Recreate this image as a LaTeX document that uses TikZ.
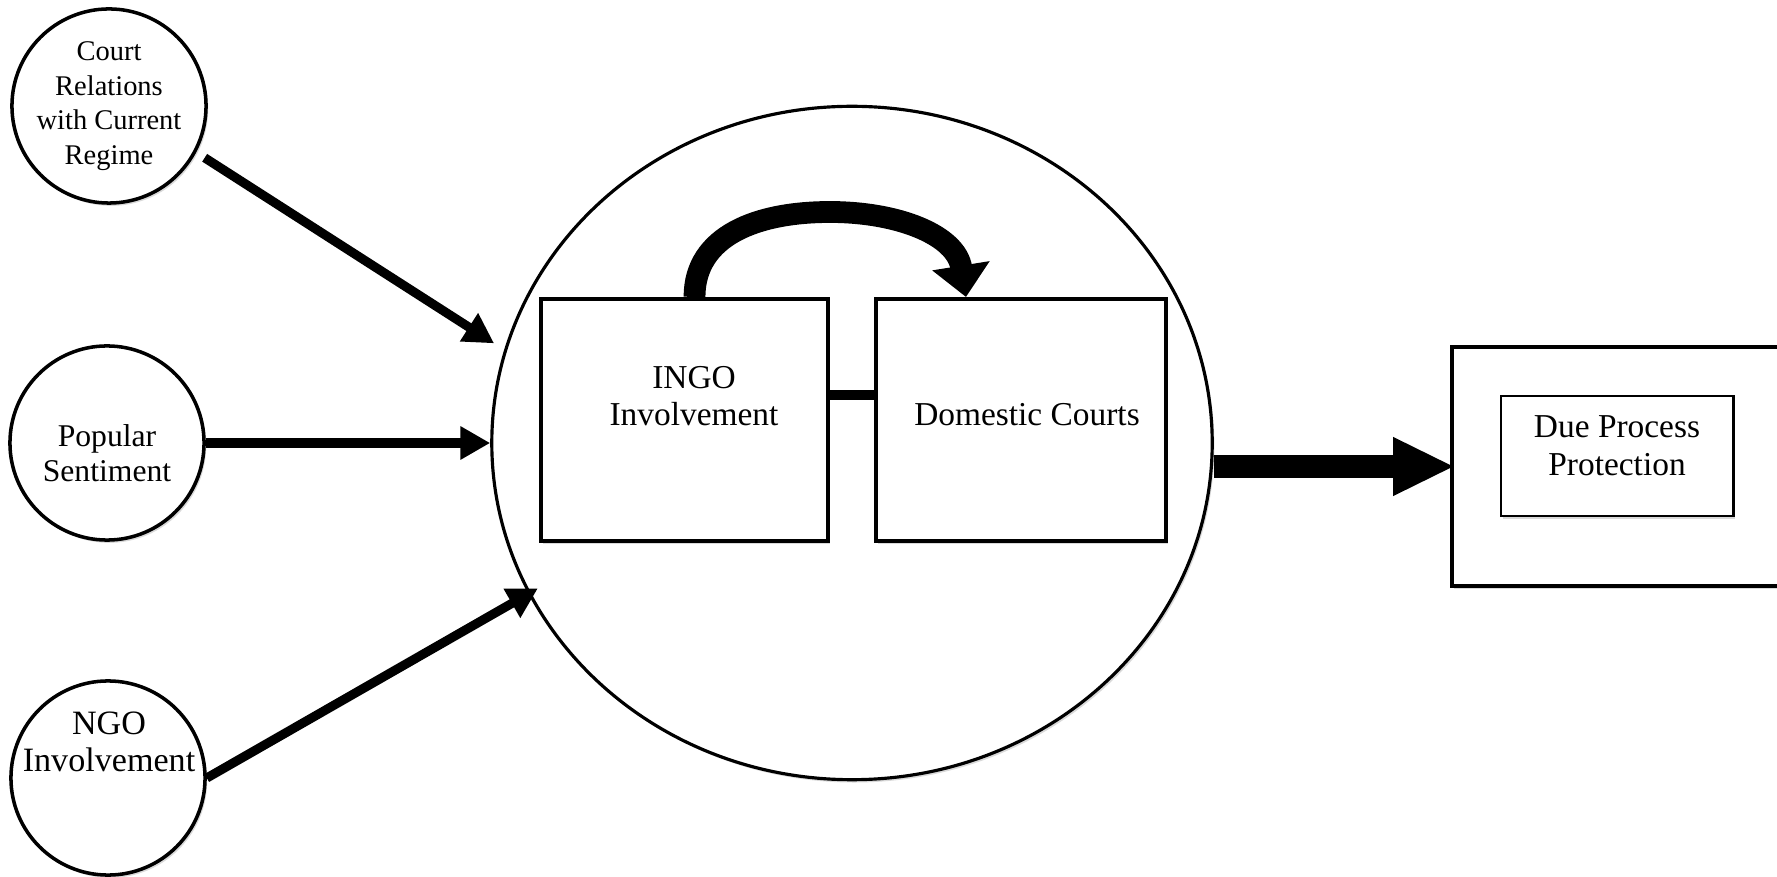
\documentclass[tikz,border=0pt]{standalone}
\usepackage{fontspec}
\setmainfont{Liberation Serif}
\usetikzlibrary{arrows.meta,shapes.geometric,shadows}

\tikzset{
	soft/.style={drop shadow={shadow xshift=0.6pt, shadow yshift=-0.8pt, fill=black, opacity=0.15}},
	factor/.style={circle, draw, line width=1pt, minimum size=1.94cm, inner sep=0pt, align=center, fill=white, soft},
	box/.style={rectangle, draw, line width=1.1pt, inner sep=0pt, fill=white, soft},
	push/.style={line width=2.6pt, -{Triangle[width=9pt, length=8.5pt]}},
	boxfont/.style={font=\fontsize{9.5}{10.6}\selectfont, align=center}
}

\begin{document}
\begin{tikzpicture}[x=0.01cm, y=-0.01cm]
	\useasboundingbox (0, 0) rectangle (1777, 877);
	\clip (0, 0) rectangle (1777, 877);

	\node[ellipse, draw, line width=0.9pt, minimum width=7.2cm, minimum height=6.73cm, inner sep=0pt, fill=white, soft] (hub) at (852, 443) {};

	\node[factor, font=\fontsize{8.1}{9.8}\selectfont] (court) at (109, 106) {Court\\Relations\\with Current\\Regime};
	\node[factor] (popular) at (107, 443) {};
	\node[font=\fontsize{9}{10}\selectfont, align=center] (populartext) at (107, 453) {Popular\\Sentiment};
	\node[factor] (ngo) at (108, 778) {};
	\node[font=\fontsize{9.7}{10.5}\selectfont, align=center] (ngotext) at (109, 742) {NGO\\Involvement};

	\node[box, minimum width=2.87cm, minimum height=2.42cm] (ingo) at (684.5, 420) {};
	\node[boxfont] (ingotext) at (694, 396) {INGO\\Involvement};
	\node[box, minimum width=2.9cm, minimum height=2.42cm] (courts) at (1021, 420) {};
	\node[boxfont] (courtstext) at (1027, 415) {Domestic Courts};

	\node[box, minimum width=4cm, minimum height=2.39cm] (outcome) at (1652, 466.5) {};
	\node[box, line width=0.8pt, minimum width=2.32cm, minimum height=1.2cm] (due) at (1617, 456) {};
	\node[boxfont, font=\fontsize{9.5}{10.8}\selectfont] (duetext) at (1617, 446) {Due Process\\Protection};

	\draw[push, shorten <=0.1cm, shorten >=0.12cm] (court.-28) -- (hub.165);
	\draw[push] (popular) -- (hub);
	\draw[push, shorten >=-0.11cm] (ngo.east) -- (hub.205);

	\draw[line width=2.6pt] ([yshift=0.25cm]ingo.east) -- ([yshift=0.25cm]courts.west);
	\draw[line width=6.2pt, -{Triangle[width=16pt, length=9pt]}] ([xshift=0.1cm]ingo.north) .. controls +(0, -62) and +(-72, 0) .. (830, 212) .. controls +(68, 0) and +(-10, -62) .. ([xshift=-0.55cm]courts.north);

	\draw[line width=6.8pt, -{Triangle[width=15.4pt, length=17.6pt]}] (hub.east |- outcome.west) -- ([xshift=0.05cm]outcome.west);
\end{tikzpicture}
\end{document}
